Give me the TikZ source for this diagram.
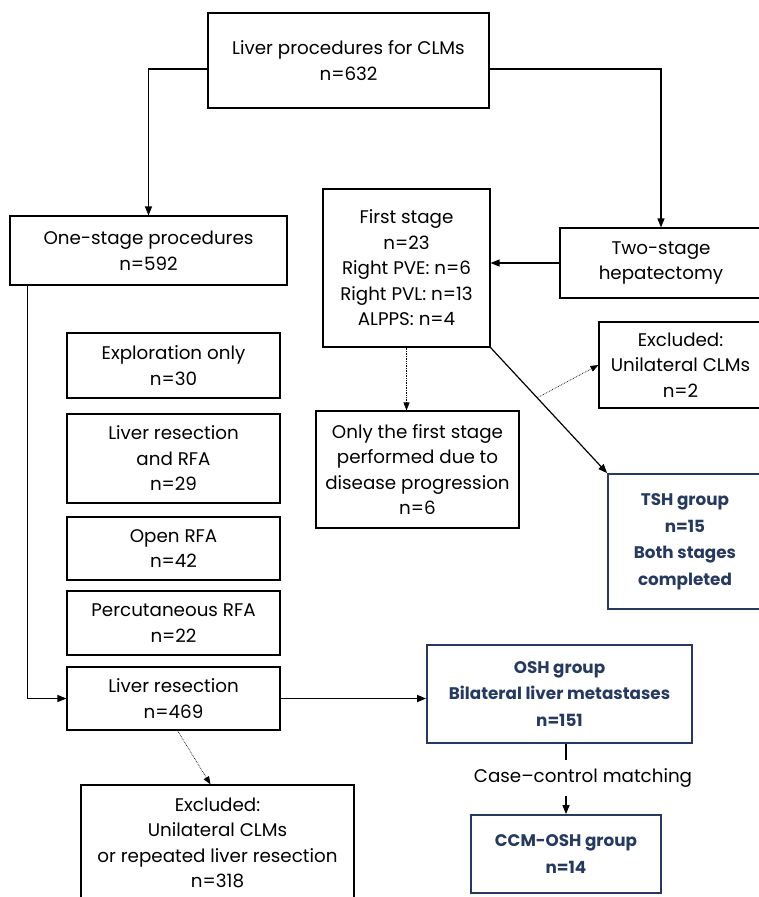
\documentclass[tikz,border=0pt]{standalone}
\usepackage{fontspec}
\setmainfont{Poppins}
\usepackage{xcolor}
\usetikzlibrary{arrows.meta,positioning,calc}

\definecolor{navy}{RGB}{38,58,96}

\begin{document}
\begin{tikzpicture}[
    x=1pt, y=-1pt,
    box/.style={rectangle, draw, line width=1.1pt, align=center, inner sep=2pt,
        font=\fontsize{18.3}{25.5}\selectfont},
    groupbox/.style={box, draw=navy, line width=1.8pt, text=navy,
        font=\fontsize{16.8}{26.5}\selectfont\bfseries},
    arrow/.style={-{Triangle[length=9pt,width=7pt]}, line width=1.2pt},
    dotarrow/.style={-{Triangle[length=8pt,width=6pt]}, densely dotted, line width=0.7pt}
]
    \useasboundingbox (0,0) rectangle (759,897);

    % top row
    \node[box, minimum width=281pt, minimum height=95pt] (total) at (348.5,60.5)
        {Liver procedures for CLMs\\n=632};
    \node[box, minimum width=277pt, minimum height=69pt] (onestage) at (148.5,250.5)
        {One-stage procedures\\n=592};
    \node[box, minimum width=202pt, minimum height=70pt] (twostage) at (661,263)
        {Two-stage\\hepatectomy};
    \node[box, minimum width=167pt, minimum height=158pt] (first) at (406.5,268)
        {First stage\\n=23\\Right PVE: n=6\\Right PVL: n=13\\ALPPS: n=4};

    % two-stage branch
    \node[box, minimum width=163pt, minimum height=86pt] (exclA) at (680.5,365)
        {Excluded:\\Unilateral CLMs\\n=2};
    \node[box, minimum width=203pt, minimum height=117pt] (onlyfirst) at (417.5,469.5)
        {Only the first stage\\performed due to\\disease progression\\n=6};
    \node[groupbox, minimum width=154pt, minimum height=135pt] (tsh) at (685,541.5)
        {TSH group\\n=15\\Both stages\\completed};

    % one-stage branch
    \node[box, minimum width=213pt, minimum height=65pt] (explo) at (173.5,365.5)
        {Exploration only\\n=30};
    \node[box, minimum width=213pt, minimum height=89pt] (resrfa) at (173.5,458.5)
        {Liver resection\\and RFA\\n=29};
    \node[box, minimum width=213pt, minimum height=63pt] (openrfa) at (173.5,548.5)
        {Open RFA\\n=42};
    \node[box, minimum width=213pt, minimum height=64pt] (percrfa) at (173.5,623)
        {Percutaneous RFA\\n=22};
    \node[box, minimum width=213pt, minimum height=63pt] (liverres) at (173.5,698.5)
        {Liver resection\\n=469};
    \node[box, minimum width=273pt, minimum height=116pt] (exclB) at (217.5,843)
        {Excluded:\\Unilateral CLMs\\or repeated liver resection\\n=318};

    % groups
    \node[groupbox, minimum width=265pt, minimum height=98pt] (osh) at (559.5,694)
        {OSH group\\Bilateral liver metastases\\n=151};
    \node[font=\fontsize{18.3}{25.5}\selectfont, minimum height=36pt, inner sep=0pt] (match) at (583,778)
        {Case--control matching};
    \node[groupbox, minimum width=190pt, minimum height=78pt] (ccm) at (566,854)
        {CCM-OSH group\\n=14};

    % connectors
    \draw[arrow] ([yshift=-8.5pt]total.west) -| (onestage.north);
    \draw[arrow] ([yshift=-8.5pt]total.east) -| (twostage.north);
    \draw[arrow] (twostage.west) -- (twostage.west -| first.east);
    \draw[arrow] ([xshift=18pt]onestage.south west) |- (liverres.west);
    \draw[dotarrow] (first.south) -- (first.south |- onlyfirst.north);
    \draw[arrow] (first.south east) -- (tsh.north west);
    \coordinate (split) at ($(first.south east)!0.4!(tsh.north west)$);
    \draw[dotarrow] (split) -- (exclA.west);
    \draw[arrow] (liverres.east) -- (liverres.east -| osh.west);
    \draw[dotarrow] ([xshift=4pt]liverres.south) -- ([xshift=-7pt]exclB.north);
    \draw[line width=1.2pt] (osh.south -| ccm.north) -- (match.north -| ccm.north);
    \draw[arrow] (match.south -| ccm.north) -- (ccm.north);
\end{tikzpicture}
\end{document}
